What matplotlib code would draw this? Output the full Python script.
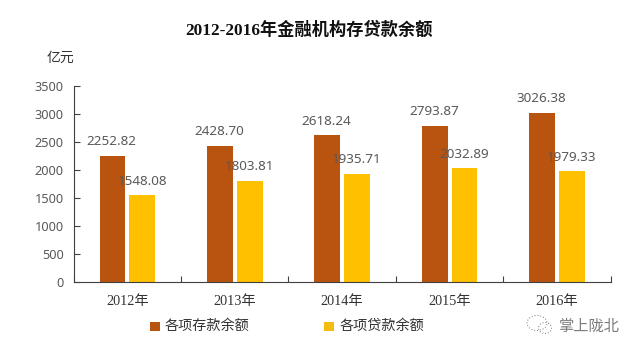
import matplotlib
matplotlib.use('Agg')
import matplotlib.pyplot as plt
from matplotlib.patches import Rectangle, Ellipse

SERIF = ['Liberation Serif', 'Noto Sans CJK SC', 'DejaVu Sans']
CJK = ['Noto Sans CJK SC', 'DejaVu Sans']
plt.rcParams['font.family'] = SERIF

years = ['2012年', '2013年', '2014年', '2015年', '2016年']
deposits = [2252.82, 2428.70, 2618.24, 2793.87, 3026.38]
loans = [1548.08, 1803.81, 1935.71, 2032.89, 1979.33]
yticks = [0, 500, 1000, 1500, 2000, 2500, 3000, 3500]
dep_color = '#B8540F'
loan_color = '#FFC000'

W, H = 640, 353
fig = plt.figure(figsize=(W/100, H/100), dpi=100, facecolor='white')
ax = fig.add_axes([73.5/W, 1-282/H, (610.5-73.5)/W, (282-86)/H])
xs = list(range(len(years)))
bw = 0.24
ax.bar([x-0.137 for x in xs], deposits, bw, color=dep_color)
ax.bar([x+0.14 for x in xs], loans, bw, color=loan_color)
for x, d, l in zip(xs, deposits, loans):
    ax.annotate(f'{d:.2f}', (x-0.145, d), xytext=(0, 5.5), textcoords='offset points', ha='center', va='bottom',
                fontsize=9.7, color='#595959', family='Noto Sans')
    ax.annotate(f'{l:.2f}', (x+0.14, l), xytext=(0, 5.5), textcoords='offset points', ha='center', va='bottom',
                fontsize=9.7, color='#595959', family='Noto Sans')
ax.set_xlim(-0.5, 4.5)
ax.set_ylim(0, 3500)
ax.set_yticks(yticks)
ax.set_xticks([x-0.5 for x in xs] + [4.5])
ax.set_xticklabels([])
ax.set_xticks(xs, minor=True)
ax.set_xticklabels(years, minor=True, fontsize=10.3, color='#333333')
ax.tick_params(axis='y', direction='in', length=4, width=0.8, color='#404040', pad=7)
for lab in ax.get_yticklabels():
    lab.set_family('Noto Sans'); lab.set_fontsize(9.2); lab.set_color('#595959')
ax.tick_params(axis='x', which='major', direction='in', length=4, width=0.8, color='#404040')
ax.tick_params(axis='x', which='minor', length=0, pad=9)
for s in ['top', 'right']:
    ax.spines[s].set_visible(False)
ax.spines['bottom'].set_color('#404040')
ax.spines['left'].set_color('#404040')

fig.text(309/W, 1-30/H, '2012-2016年金融机构存贷款余额', ha='center', va='center', fontsize=12.4, fontweight='bold', color='#111111')
fig.text(60.5/W, 1-58/H, '亿元', ha='center', va='center', fontsize=10, color='#333333', family=CJK)

for px, color, lab, tx in [(150, dep_color, '各项存款余额', 165), (324, '#F5BC10', '各项贷款余额', 340)]:
    fig.add_artist(Rectangle((px/W, 1-331/H), 10/W, 9/H, transform=fig.transFigure, color=color, lw=0))
    fig.text(tx/W, 1-326/H, lab, ha='left', va='center', fontsize=10.2, color='#333333', family=CJK)

# watermark: dotted chat-bubble icon and account name
fig.add_artist(Ellipse((537/W, 1-323/H), 20/W, 15/H, transform=fig.transFigure, fill=False,
                       ec='#777777', lw=0.7, ls=(0, (1, 2))))
fig.add_artist(Ellipse((545/W, 1-328/H), 13/W, 11/H, transform=fig.transFigure, fill=False,
                       ec='#777777', lw=0.7, ls=(0, (1, 2))))
fig.text(588.5/W, 1-326/H, '掌上陇北', ha='center', va='center', fontsize=11, color='#444444', alpha=0.7, family=CJK)
fig.savefig('out.png', dpi=100)
